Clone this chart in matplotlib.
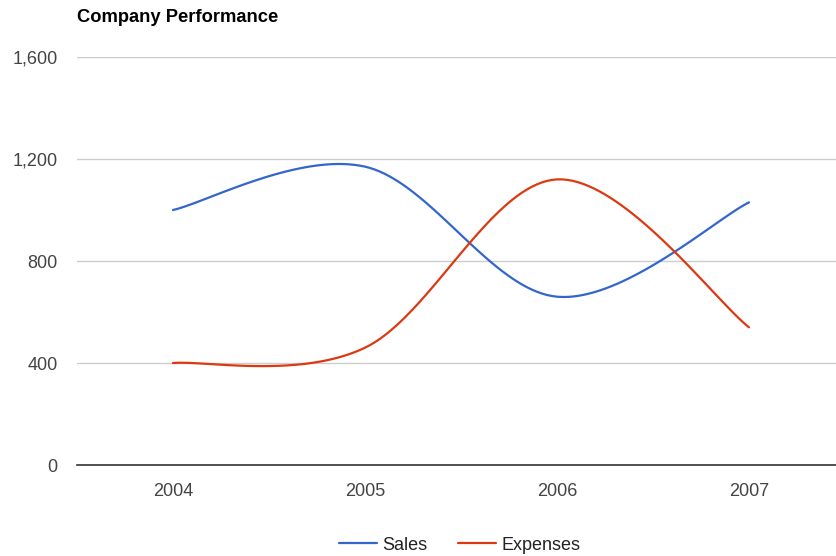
import numpy as np
import matplotlib
matplotlib.use('Agg')
import matplotlib.pyplot as plt

plt.rcParams['font.family'] = ['Liberation Sans', 'DejaVu Sans']

years = ['2004', '2005', '2006', '2007']
sales = [1000, 1170, 660, 1030]
expenses = [400, 460, 1120, 540]


def smooth(xs, ys, k=0.17, n=40):
    # cubic bezier through the points, tangents from neighbours
    xs = np.asarray(xs, float)
    ys = np.asarray(ys, float)
    m = len(xs)
    tx = np.zeros(m)
    ty = np.zeros(m)
    for i in range(m):
        a = max(i - 1, 0)
        b = min(i + 1, m - 1)
        tx[i] = (xs[b] - xs[a]) * k
        ty[i] = (ys[b] - ys[a]) * k
    outx, outy = [], []
    t = np.linspace(0, 1, n)
    for i in range(m - 1):
        p0 = np.array([xs[i], ys[i]])
        p3 = np.array([xs[i + 1], ys[i + 1]])
        p1 = p0 + np.array([tx[i], ty[i]])
        p2 = p3 - np.array([tx[i + 1], ty[i + 1]])
        pts = ((1 - t) ** 3)[:, None] * p0 + (3 * (1 - t) ** 2 * t)[:, None] * p1 \
            + (3 * (1 - t) * t ** 2)[:, None] * p2 + (t ** 3)[:, None] * p3
        outx.extend(pts[:, 0])
        outy.extend(pts[:, 1])
    return outx, outy


fig = plt.figure(figsize=(8.36, 5.56), dpi=100)
ax = fig.add_axes([77 / 836, 1 - 465 / 556, 768 / 836, 408 / 556])

x = np.arange(len(years))
sx, sy = smooth(x, sales)
ex, ey = smooth(x, expenses)
ax.plot(sx, sy, color='#3366cc', lw=1.6, label='Sales', solid_capstyle='round')
ax.plot(ex, ey, color='#dc3912', lw=1.6, label='Expenses', solid_capstyle='round')

ax.set_xlim(-0.5, 3.5)
ax.set_ylim(0, 1600)
ax.set_yticks([0, 400, 800, 1200, 1600])
ax.set_yticklabels(['0', '400', '800', '1,200', '1,600'])
ax.set_xticks(x)
ax.set_xticklabels(years)
ax.grid(axis='y', color='#cccccc', lw=1)
ax.set_axisbelow(True)
for s in ['top', 'right', 'left']:
    ax.spines[s].set_visible(False)
ax.spines['bottom'].set_color('#333333')
ax.spines['bottom'].set_linewidth(1.2)
ax.tick_params(length=0, labelsize=13, labelcolor='#444444')
ax.tick_params(axis='y', pad=14)
ax.tick_params(axis='x', pad=13)

fig.text(77 / 836, 1 - 17 / 556, 'Company Performance', fontsize=13.2, fontweight='bold',
         va='center', ha='left', color='#000000')

fig.legend(loc='center', bbox_to_anchor=(460 / 836, 1 - 545 / 556), ncol=2, frameon=False,
           fontsize=13, handlelength=2.1, columnspacing=1.7, handletextpad=0.3,
           labelcolor='#222222')

fig.savefig('out.png', dpi=100)
